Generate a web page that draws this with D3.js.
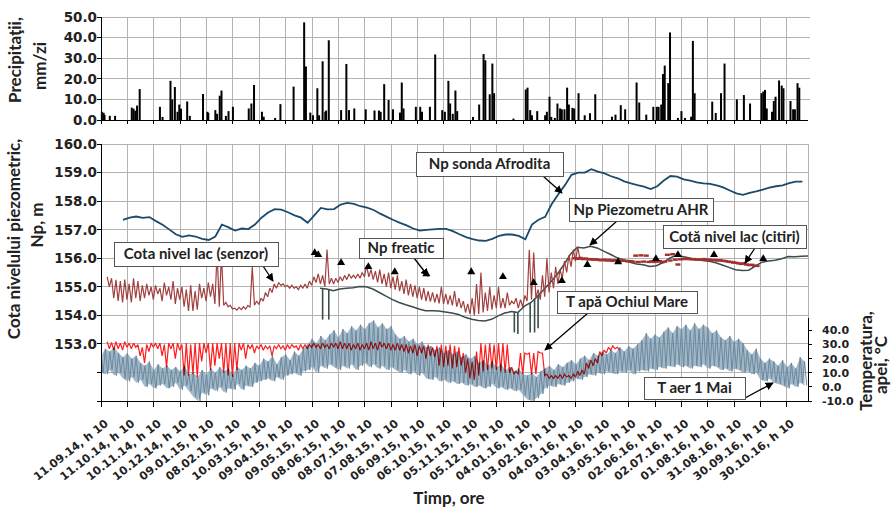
<!DOCTYPE html>
<html>
<head>
<meta charset="utf-8">
<script src="https://cdn.jsdelivr.net/npm/d3@7"></script>
<style>
  body { margin: 0; background: #fff; }
  svg { display: block; }
</style>
</head>
<body>
<svg id="chart" width="894" height="508"></svg>
<script>
// ---- Axis ticks (every 30 days, readings at 10:00) ----
const timeTicks = ["11.09.14","11.10.14","10.11.14","10.12.14","09.01.15","08.02.15","10.03.15",
  "09.04.15","09.05.15","08.06.15","08.07.15","07.08.15","06.09.15","06.10.15","05.11.15",
  "05.12.15","04.01.16","03.02.16","04.03.16","03.04.16","03.05.16","02.06.16","02.07.16",
  "01.08.16","31.08.16","30.09.16","30.10.16"];
const precipTicks = [0, 10, 20, 30, 40, 50];
const levelTicks = [151, 152, 153, 154, 155, 156, 157, 158, 159, 160];
const levelLabelled = [153, 154, 155, 156, 157, 158, 159, 160];
const tempTicks = [-10, 0, 10, 20, 30, 40];

// ---- Daily precipitation (day counted from 11.09.14, mm/zi) ----
const precipDay = [1,3,4,10,16,35,37,39,41,44,67,70,79,81,84,87,89,91,98,101,116,121,122,130,132,135,137,142,145,150,
  168,171,174,183,185,198,204,219,231,233,238,241,246,248,252,255,256,259,273,279,282,288,301,311,316,318,322,327,332,
  340,342,344,358,363,365,374,380,388,391,395,397,400,403,405,423,430,435,437,442,445,447,469,483,485,488,490,496,505,
  507,510,512,516,519,522,524,527,530,532,536,538,543,550,556,562,581,585,591,596,609,612,620,628,632,634,637,639,641,
  645,647,656,660,664,671,673,675,695,699,705,709,723,731,738,751,753,755,757,763,765,767,771,774,776,784,787,789,792,794];
const precipMm = [4,3.5,2.5,2,2,6,5.5,4.5,7,15,6.4,1.5,19,10,16,4,7.5,5.5,9,2,12.6,4,3.5,4.8,3,11.8,14.3,2,4.3,6.4,
  5.6,8,17,4,1.6,1,7.7,16.2,47.4,26,3.6,2.3,15.4,2.3,28.5,4,4.6,38.7,4.8,27.2,4.8,5.6,5.2,4.6,4.6,4,17.4,9.7,5.2,
  3.6,18.2,5.6,6.4,6.4,4,6.4,31.8,4.8,4,19,8,3,14.3,4.3,1.5,7.5,32,29,12.5,27.4,13,0.7,14.8,15.7,4.8,2.3,4.3,2.3,
  4,11.3,1.5,1,8,5.6,5.2,5.2,15.7,7.5,5.9,5.6,13,2.3,3.3,12.5,1.6,2.6,7.2,5.2,18.2,8.5,2.6,6.4,6.4,6.4,7.5,22.3,26.4,
  17.9,42.5,1,4.3,1,1.6,38.4,13,8.9,3.4,13,27.4,10,12.1,8,13,13.8,14.6,5.6,4,9.2,11.3,19.2,16.7,15.4,9.2,5.2,5.2,17.9,15.7];

// ---- Np sonda Afrodita (m), from day 25, every 7.5 days ----
const afroditaStart = 25, afroditaStep = 7.5;
const afrodita = [157.34,157.42,157.46,157.41,157.44,157.30,157.17,157.01,156.84,156.75,156.80,156.76,156.68,156.64,
  156.76,157.18,157.08,156.97,157.04,157.02,157.18,157.42,157.60,157.72,157.70,157.61,157.50,157.42,157.24,157.50,
  157.76,157.71,157.72,157.88,157.94,157.90,157.82,157.77,157.69,157.56,157.45,157.34,157.24,157.15,157.04,156.97,
  156.99,157.01,157.03,157.03,156.95,156.84,156.74,156.67,156.62,156.61,156.68,156.78,156.83,156.83,156.78,156.66,
  157.18,157.35,157.45,157.90,158.24,158.56,158.92,159.00,159.00,159.12,159.03,158.97,158.87,158.80,158.69,158.62,
  158.56,158.51,158.42,158.52,158.72,158.88,158.86,158.76,158.72,158.66,158.62,158.60,158.55,158.48,158.37,158.27,
  158.22,158.29,158.34,158.40,158.47,158.52,158.55,158.63,158.68,158.68];

// ---- Np Piezometru AHR (m), from day 249, every 7.5 days ----
const ahrStart = 249, ahrStep = 7.5;
const ahr = [154.95,154.92,154.86,154.92,154.95,154.97,155.01,155.00,154.92,154.80,154.67,154.55,154.45,154.37,
  154.30,154.22,154.16,154.16,154.15,154.12,154.08,154.03,153.93,153.86,153.82,153.80,153.86,153.98,154.08,154.13,
  154.10,154.32,154.45,154.67,154.92,155.17,155.45,155.78,156.15,156.38,156.36,156.42,156.36,156.25,156.14,156.02,
  155.95,155.86,155.80,155.77,155.71,155.74,155.85,156.00,156.10,156.06,156.01,155.96,155.92,155.89,155.84,155.76,
  155.68,155.60,155.57,155.58,155.72,155.86,155.90,155.93,155.98,156.06,156.05,156.07,156.08];
// short drops of the AHR record: [day, level before, lowest level]
const ahrDrops = [[252,154.95,153.85],[259,154.92,153.85],[470,154.13,153.40],[474,154.10,153.35],
  [488,154.43,153.40],[493,154.60,153.40],[497,154.70,153.55]];

// ---- Cota nivel lac (senzor), from day 7, every 5 days: upper / lower value of each interval ----
const lakeStart = 7, lakeStep = 5;
const lakeHi = [155.35,155.30,155.24,155.20,155.25,155.10,155.30,155.20,155.05,155.10,155.00,155.05,154.95,155.15,
  155.00,155.20,154.95,155.00,154.90,155.05,154.85,155.10,154.95,155.15,155.10,156.20,156.15,154.45,154.35,154.25,
  154.28,154.30,154.35,155.70,154.50,154.60,154.80,154.95,155.10,155.15,155.10,155.05,155.05,155.00,155.05,155.10,
  155.20,155.35,155.45,155.40,156.30,155.30,155.30,155.35,155.40,155.45,155.40,155.45,155.50,155.75,155.60,155.55,
  155.60,155.45,155.50,155.35,155.40,155.20,155.25,155.10,155.05,155.00,154.95,154.85,154.80,154.75,155.00,154.75,
  154.70,154.85,154.60,154.50,154.40,154.60,155.10,155.50,154.80,155.00,154.70,155.00,154.60,154.80,154.50,154.60,
  154.55,154.70,156.30,156.20,154.90,155.40,156.00,155.50,155.70,155.60,155.90,156.10,156.30,156.40];
const lakeLo = [155.00,154.60,154.50,154.45,154.55,154.45,154.60,154.50,154.60,154.70,154.55,154.75,154.50,154.70,
  154.55,154.40,154.55,154.30,154.15,154.15,154.20,154.60,154.50,154.65,154.40,154.30,154.35,154.30,154.22,154.18,
  154.20,154.22,154.28,154.35,154.38,154.50,154.65,154.80,154.95,155.05,155.00,154.95,154.95,154.90,154.95,154.95,
  155.05,155.15,155.10,155.00,155.10,155.10,155.15,155.20,155.25,155.30,155.30,155.30,155.35,155.35,155.25,155.15,
  155.10,155.00,154.95,154.90,154.85,154.75,154.70,154.65,154.60,154.55,154.50,154.48,154.45,154.42,154.40,154.38,
  154.35,154.30,154.25,154.10,154.05,154.00,154.05,154.10,154.15,154.20,154.25,154.25,154.25,154.35,154.40,154.25,
  154.30,154.50,154.55,154.60,154.55,154.65,154.80,154.95,155.10,155.30,155.50,155.70,155.90,156.00];

// ---- Cotă nivel lac (citiri), from day 539, every 3 days ----
const readStart = 539, readStep = 3;
const lakeReadings = [156.00,155.98,156.01,155.97,155.99,155.96,155.97,155.95,155.96,
  155.94,155.93,155.95,155.92,155.94,155.91,155.93,155.92,155.90,155.92,155.91,155.89,155.90,
  155.88,156.09,155.87,156.10,155.88,156.09,155.87,155.89,155.87,155.88,155.90,155.86,155.88,
  156.12,155.92,156.14,155.95,155.78,155.96,155.98,
  155.97,155.98,155.96,155.97,155.95,155.96,155.95,155.97,155.94,155.95,155.93,155.94,155.92,155.93,155.91,155.90,
  155.88,155.87,155.85,155.84,155.82,155.80,155.82,155.78,155.76,155.77,155.74,155.73];

// ---- Np freatic (m) ----
const freaticDay = [243,247,273,304,334,370,421,457,492,524,553,588,631,656,697,753];
const freaticNp = [156.19,156.12,155.84,155.70,155.52,155.45,155.52,155.35,155.14,155.21,155.77,155.87,155.98,156.12,156.12,155.98];

// ---- T apă Ochiul Mare (°C), from day 7, every 5 days: upper / lower ----
const waterStart = 7, waterStep = 5;
const waterHi = [32,31.5,32,31,32,31,31,30,28,30, 31,31,31,30,31,31,31,30,31,30, 31,31,31,31,31,31,31,31,31,31,
  31,31,30,30,29,30,29,29,29,30, 29,30,30,29,30,30,30,31,30,31, 30,31,31,32,31,31,30,31,30,31,
  32,31,32,31,31,30,31,30,30,29, 30,29,29,30,28,29,30,29,30,29, 28,24,20,18,25,31,30,31,30,31,
  31,30,14,11,24,24,24,24,25,24, 9,8,8,9,9,8,9,11,12,17, 19,20,25,26,28,29,28];
const waterLo = [27,26,27,26,28,27,28,22,17,25, 28,27,22,14,27,20,26,8,8,9, 7,18,24,12,15,20,10,8,7,12,
  26,20,27,24,27,26,27,22,27,27, 26,27,28,26,27,27,28,28,27,28, 27,28,27,27,27,26,27,26,27,26,
  27,26,28,27,26,26,26,25,24,24, 22,24,20,22,21,15,14,15,13,14, 15,10,6,5,8,11,12,13,12,11,
  10,10,9,9,9,23,9,9,24,8, 6,6,6,6,7,6,7,8,9,13, 15,17,22,24,26,27,26];

// ---- T aer 1 Mai (°C), from day 0, every 5 days: daily maxima / minima ----
const airStart = 0, airStep = 5;
const airHi = [22,27,25,28,24,21,24,20,22,17, 15,18,12,16,13,15,12,14,11,15, 9,10,7,12,9,13,10,14,11,13,
  9,14,12,15,13,17,15,20,18,22, 16,21,23,19,25,22,27,30,34,31, 36,33,37,40,35,41,38,43,40,44,
  41,45,47,42,45,41,43,37,34,36, 32,34,30,32,28,29,26,28,24,26, 23,25,21,23,20,22,17,19,15,18,
  14,16,12,14,11,13,9,8,10,7, 11,13,15,12,16,14,17,19,16,20, 22,19,24,22,25,23,26,24,28,25,
  29,27,30,33,38,34,37,35,39,42, 38,43,41,44,40,45,41,44,42,38, 40,35,33,36,32,34,31,26,23,27,
  20,17,20,18,15,19,14,17,13,21,18];
const airLo = [10,9,12,8,10,6,4,7,3,5, 0,2,-1,1,2,-1,0,3,-2,1, -3,-7,-10,-4,-6,-1,-3,0,-4,-1,
  -2,2,-2,1,0,3,4,5,6,4, 7,5,8,9,10,8,11,12,14,10, 15,13,16,14,12,15,13,16,12,15,
  17,14,16,13,15,12,14,12,10,12, 9,11,8,10,6,5,7,4,5,3, 4,2,3,1,2,0,1,-1,0,2,
  -1,0,-2,-1,-3,-2,-6,-9,-10,-8, -5,-1,1,0,2,1,3,4,6,5, 7,9,8,10,9,11,10,9,11,10,
  12,9,11,12,11,13,12,14,13,15, 14,16,14,15,13,15,14,16,13,15, 14,12,13,11,13,12,10,11,9,10,
  5,4,6,3,2,1,-1,2,0,3,1];

// ---------------------------------------------------------------------------
const svg = d3.select("#chart");
const TXT = "Lato, 'Open Sans', sans-serif";
const NUM = "'DejaVu Sans', sans-serif";
const GRID = "#b3b3b3";

const DAY = 864e5;
const t0 = Date.UTC(2014, 8, 11, 10);
const dayDate = d => new Date(t0 + d * DAY);
const parseTick = d3.utcParse("%d.%m.%y");
const tickDates = timeTicks.map(s => new Date(parseTick(s).getTime() + 10 * 3600e3));

const L = 101, R = 808;
const x = d3.scaleUtc().domain([dayDate(0), dayDate(803.9)]).range([L, R]);
const yP = d3.scaleLinear().domain([0, 50]).range([120, 17]);
const yN = d3.scaleLinear().domain([151, 160]).range([401, 144]);
const yT = d3.scaleLinear().domain([-10, 40]).range([401, 330.4]);

// ---- grid ----
const grid = svg.append("g").attr("stroke", GRID).attr("stroke-width", 1).attr("shape-rendering", "crispEdges");
grid.selectAll(".gv1").data(tickDates.slice(1)).join("line")
  .attr("x1", d => x(d)).attr("x2", d => x(d)).attr("y1", yP(50)).attr("y2", yP(0));
grid.selectAll(".gh1").data(precipTicks.slice(1)).join("line")
  .attr("x1", L).attr("x2", R + 2).attr("y1", d => yP(d)).attr("y2", d => yP(d));
grid.selectAll(".gv2").data(tickDates.slice(1)).join("line").attr("class", "gv2")
  .attr("x1", d => x(d)).attr("x2", d => x(d)).attr("y1", yN(160)).attr("y2", yN(151));
grid.append("line").attr("x1", R).attr("x2", R).attr("y1", yN(160)).attr("y2", yN(151));
grid.selectAll(".gh2").data(levelTicks.slice(1)).join("line").attr("class", "gh2")
  .attr("x1", L).attr("x2", R).attr("y1", d => yN(d)).attr("y2", d => yN(d));

// ---- precipitation bars ----
svg.append("g").selectAll("rect").data(precipDay.map((d, i) => [d, precipMm[i]])).join("rect")
  .attr("x", d => x(dayDate(d[0])) - 1).attr("width", 2)
  .attr("y", d => yP(d[1])).attr("height", d => yP(0) - yP(d[1]))
  .attr("fill", "#000");

// ---- lower panel series ----
svg.append("defs").append("clipPath").attr("id", "plot")
  .append("rect").attr("x", L).attr("y", yN(160)).attr("width", R - L).attr("height", yN(151) - yN(160));
const plot = svg.append("g").attr("clip-path", "url(#plot)");

// a value series sampled regularly; when a lower array is given, each interval
// contributes its upper value and then its lower value
function series(start, step, hi, lo) {
  const pts = [];
  hi.forEach((h, i) => {
    pts.push([start + i * step, h]);
    if (lo) pts.push([start + i * step + step / 2, lo[i]]);
  });
  return pts;
}
const lineN = d3.line().x(p => x(dayDate(p[0]))).y(p => yN(p[1]));
const lineT = d3.line().x(p => x(dayDate(p[0]))).y(p => yT(p[1]));

// hourly air temperature: the daily swing fills the band between maxima and minima
const airBand = airHi.map((h, i) => ({ d: airStart + i * airStep, hi: h, lo: airLo[i] }));
plot.append("path")
  .attr("d", d3.area()
    .x(p => x(dayDate(p.d)))
    .y0(p => yT(p.lo)).y1(p => yT(p.hi))(airBand))
  .attr("fill", "#86a0b4").attr("fill-opacity", 0.75);
plot.append("path").attr("d", lineT(series(airStart, airStep, airHi, airLo)))
  .attr("fill", "none").attr("stroke", "#6a899f").attr("stroke-width", 1)
  .attr("stroke-miterlimit", 2);
plot.append("path").attr("d", lineT(series(waterStart, waterStep, waterHi, waterLo)))
  .attr("fill", "none").attr("stroke", "#ff1c1c").attr("stroke-width", 1.2)
  .attr("stroke-miterlimit", 2)
  .style("mix-blend-mode", "multiply");
plot.append("path").attr("d", lineN(series(ahrStart, ahrStep, ahr)))
  .attr("fill", "none").attr("stroke", "#3b4c4a").attr("stroke-width", 1.5);
plot.append("g").selectAll("line").data(ahrDrops).join("line")
  .attr("x1", d => x(dayDate(d[0]))).attr("x2", d => x(dayDate(d[0])))
  .attr("y1", d => yN(d[1])).attr("y2", d => yN(d[2]))
  .attr("stroke", "#3b4c4a").attr("stroke-width", 1.6);
plot.append("path").attr("d", lineN(series(lakeStart, lakeStep, lakeHi, lakeLo)))
  .attr("fill", "none").attr("stroke", "#a0403f").attr("stroke-width", 1.2)
  .attr("stroke-miterlimit", 2);
plot.append("path").attr("d", lineN(series(afroditaStart, afroditaStep, afrodita)))
  .attr("fill", "none").attr("stroke", "#1b4b6c").attr("stroke-width", 1.8);
plot.append("g").selectAll("line").data(lakeReadings.map((v, i) => [readStart + i * readStep, v])).join("line")
  .attr("x1", d => x(dayDate(d[0])) - 2.5).attr("x2", d => x(dayDate(d[0])) + 2.5)
  .attr("y1", d => yN(d[1])).attr("y2", d => yN(d[1]))
  .attr("stroke", "#a1302f").attr("stroke-width", 2.4);
plot.append("g").selectAll("path").data(freaticDay.map((d, i) => [d, freaticNp[i]])).join("path")
  .attr("transform", d => `translate(${x(dayDate(d[0]))},${yN(d[1])})`)
  .attr("d", d3.symbol(d3.symbolTriangle).size(28)).attr("fill", "#000");

// ---- axes ----
const ax = svg.append("g").attr("stroke", "#000").attr("stroke-width", 1).attr("shape-rendering", "crispEdges");
ax.append("line").attr("x1", L).attr("x2", L).attr("y1", yP(50)).attr("y2", yP(0));
ax.append("line").attr("x1", L).attr("x2", R).attr("y1", yP(0)).attr("y2", yP(0));
ax.selectAll(".t1").data(tickDates).join("line").attr("class", "t1")
  .attr("x1", d => x(d)).attr("x2", d => x(d)).attr("y1", yP(0)).attr("y2", yP(0) + 4);
ax.selectAll(".p1").data(precipTicks).join("line").attr("class", "p1")
  .attr("x1", L - 4).attr("x2", L).attr("y1", d => yP(d)).attr("y2", d => yP(d));

ax.append("line").attr("x1", L).attr("x2", L).attr("y1", yN(160)).attr("y2", yN(151));
ax.append("line").attr("x1", L).attr("x2", R).attr("y1", yN(151)).attr("y2", yN(151));
ax.selectAll(".t2").data(tickDates).join("line").attr("class", "t2")
  .attr("x1", d => x(d)).attr("x2", d => x(d)).attr("y1", yN(151)).attr("y2", yN(151) + 6);
ax.selectAll(".n2").data(levelTicks).join("line").attr("class", "n2")
  .attr("x1", L - 4).attr("x2", L).attr("y1", d => yN(d)).attr("y2", d => yN(d));
ax.append("line").attr("x1", R).attr("x2", R).attr("y1", yT(48.5)).attr("y2", yT(-10));
ax.selectAll(".r2").data(tempTicks).join("line").attr("class", "r2")
  .attr("x1", R).attr("x2", R + 4).attr("y1", d => yT(d)).attr("y2", d => yT(d));

const lab = svg.append("g").attr("font-family", NUM).attr("font-weight", "bold").attr("fill", "#222");
lab.selectAll(".lp").data(precipTicks).join("text")
  .attr("x", 97).attr("y", d => yP(d)).attr("dy", "0.36em").attr("text-anchor", "end")
  .attr("font-size", 13.5).text(d => d.toFixed(1));
lab.selectAll(".ln").data(levelLabelled).join("text").attr("class", "ln")
  .attr("x", 97).attr("y", d => yN(d)).attr("dy", "0.36em").attr("text-anchor", "end")
  .attr("font-size", 13.5).text(d => d.toFixed(1));
lab.selectAll(".lt").data(tempTicks).join("text").attr("class", "lt")
  .attr("x", 822).attr("y", d => yT(d)).attr("dy", "0.36em").attr("text-anchor", "start")
  .attr("font-size", 11).text(d => d.toFixed(1));
lab.selectAll(".lx").data(tickDates).join("text").attr("class", "lx")
  .attr("transform", d => `translate(${x(d) + 8},${yN(151) + 24}) rotate(-38)`)
  .attr("text-anchor", "end").attr("font-size", 11.2)
  .text(d => d3.utcFormat("%d.%m.%y")(d) + ", h 10");

// ---- axis titles ----
const titles = [
  ["Precipitaţii,", 21, 60, -90], ["mm/zi", 46, 66, -90],
  ["Cota nivelului piezometric,", 20, 239, -90], ["Np, m", 43, 225, -90],
  ["Temperatura,", 872, 361, -90], ["apei, °C", 887, 365, -90],
  ["Timp, ore", 449, 504, 0]
];
svg.append("g").selectAll("text").data(titles).join("text")
  .attr("transform", d => `translate(${d[1]},${d[2]}) rotate(${d[3]})`)
  .attr("text-anchor", "middle").attr("font-family", TXT).attr("font-weight", "bold")
  .attr("font-size", 17).attr("fill", "#222").text(d => d[0]);

// ---- callouts ----
svg.select("defs").append("marker").attr("id", "arrow")
  .attr("viewBox", "0 0 10 10").attr("refX", 9).attr("refY", 5)
  .attr("markerWidth", 8).attr("markerHeight", 8).attr("markerUnits", "userSpaceOnUse")
  .attr("orient", "auto")
  .append("path").attr("d", "M0,0L10,5L0,10z").attr("fill", "#000");

const callouts = [
  { text: "Np sonda Afrodita", box: [416, 152, 563, 176], from: [543, 176], to: [562, 193] },
  { text: "Np Piezometru AHR", box: [569, 198, 713, 221], from: [617, 221], to: [590, 245] },
  { text: "Cotă nivel lac (citiri)", box: [663, 225, 806, 248], from: [755, 248], to: [745, 263] },
  { text: "Cota nivel lac (senzor)", box: [114, 242, 278, 266], from: [263, 266], to: [273, 281] },
  { text: "Np freatic", box: [359, 238, 443, 258], from: [414, 258], to: [428, 276] },
  { text: "T apă Ochiul Mare", box: [557, 291, 697, 313], from: [588, 313], to: [545, 350] },
  { text: "T aer 1 Mai", box: [644, 377, 745, 399], from: [745, 398], to: [773, 383] }
];
const co = svg.append("g");
co.selectAll("line").data(callouts).join("line")
  .attr("x1", d => d.from[0]).attr("y1", d => d.from[1]).attr("x2", d => d.to[0]).attr("y2", d => d.to[1])
  .attr("stroke", "#000").attr("stroke-width", 1.3).attr("marker-end", "url(#arrow)");
co.selectAll("rect").data(callouts).join("rect")
  .attr("x", d => d.box[0] + 0.5).attr("y", d => d.box[1] + 0.5)
  .attr("width", d => d.box[2] - d.box[0]).attr("height", d => d.box[3] - d.box[1])
  .attr("fill", "#fff").attr("stroke", "#555").attr("stroke-width", 1);
co.selectAll("text").data(callouts).join("text")
  .attr("x", d => (d.box[0] + d.box[2]) / 2).attr("y", d => (d.box[1] + d.box[3]) / 2)
  .attr("dy", "0.36em").attr("text-anchor", "middle")
  .attr("font-family", TXT).attr("font-weight", "bold").attr("font-size", 15).attr("fill", "#222")
  .text(d => d.text);
</script>
</body>
</html>
